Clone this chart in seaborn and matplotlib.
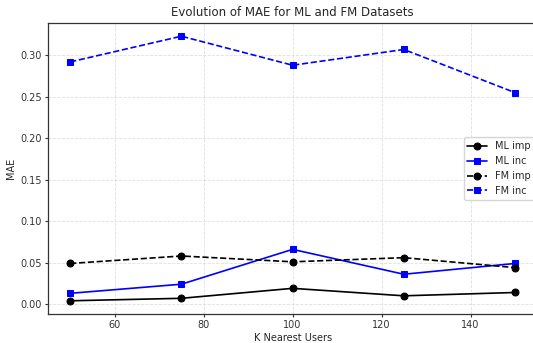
import matplotlib
matplotlib.use("Agg")
import matplotlib.pyplot as plt
import seaborn as sns
import pandas as pd

k_values = [50, 75, 100, 125, 150]
ml_imp = [0.004, 0.007, 0.019, 0.010, 0.014]
ml_inc = [0.013, 0.024, 0.066, 0.036, 0.049]
fm_imp = [0.049, 0.058, 0.051, 0.056, 0.044]
fm_inc = [0.292, 0.323, 0.288, 0.307, 0.255]

series = [
    ("ML imp", ml_imp, "black", "o", "-"),
    ("ML inc", ml_inc, "blue", "s", "-"),
    ("FM imp", fm_imp, "black", "o", "--"),
    ("FM inc", fm_inc, "blue", "s", "--"),
]

sns.set_style("white")
plt.rcParams["font.family"] = ["DejaVu Sans"]

fig = plt.figure(figsize=(5.33, 3.43), dpi=100)
ax = fig.add_axes([0.090, 0.0845, 0.918, 0.8485])

for name, vals, color, marker, ls in series:
    df = pd.DataFrame({"K": k_values, "MAE": vals})
    sns.lineplot(data=df, x="K", y="MAE", ax=ax, color=color, marker=marker,
                 linestyle=ls, label=name, markersize=5, linewidth=1.2,
                 markeredgecolor=color)

ax.grid(True, linestyle="--", alpha=0.6, linewidth=0.6)
for s in ax.spines.values():
    s.set_color("#333333")
    s.set_linewidth(0.9)
ax.tick_params(axis="both", labelsize=7, length=2.5, width=0.8, pad=2,
               colors="#333333", left=True, bottom=True)
ax.set_title("Evolution of MAE for ML and FM Datasets", fontsize=8.5, pad=5)
ax.set_xlabel("K Nearest Users", fontsize=7, labelpad=2)
ax.set_ylabel("MAE", fontsize=7, labelpad=3)
ax.set_xticks([60, 80, 100, 120, 140])
ax.set_yticks([0.0, 0.05, 0.10, 0.15, 0.20, 0.25, 0.30])
ax.margins(x=0.05, y=0.05)
leg = ax.legend(loc="center right", bbox_to_anchor=(1.0, 0.5), fontsize=7,
                handlelength=2.0, borderaxespad=0.3)

fig.savefig("out.png", dpi=100)
